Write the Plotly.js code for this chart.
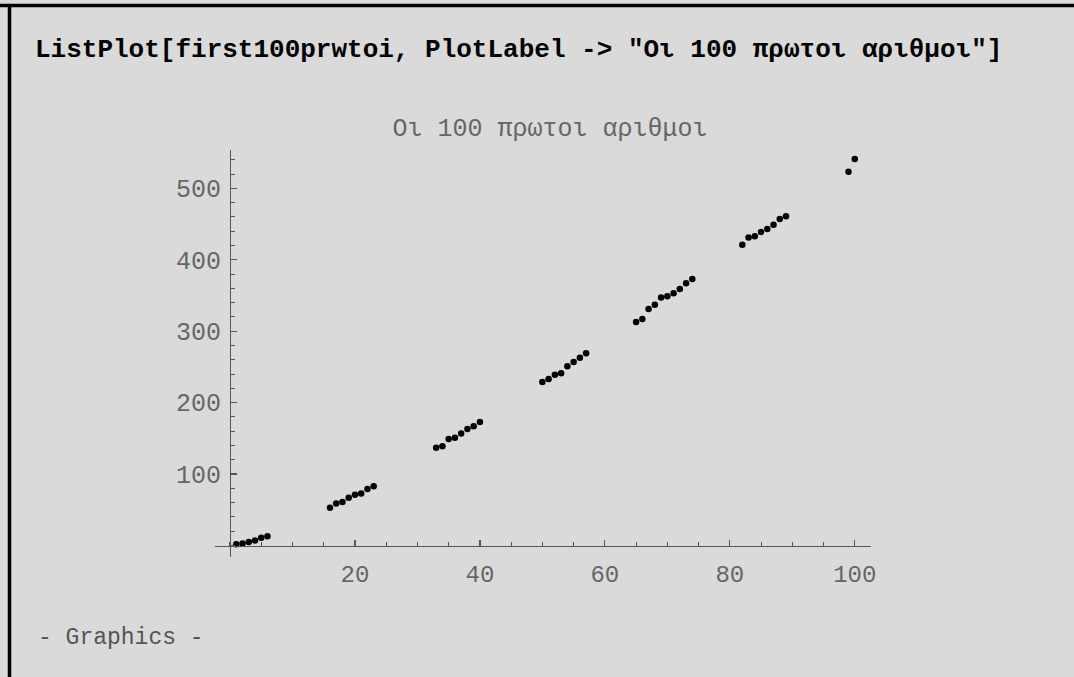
<!DOCTYPE html>
<html>
<head>
<meta charset="utf-8">
<script src="https://cdn.plot.ly/plotly-3.0.1.min.js"></script>
<style>html,body{margin:0;padding:0;background:#dadada;}#chart{width:1074px;height:677px;}</style>
</head>
<body>
<div id="chart"></div>
<script>
// Indices (n) of the primes shown and the n-th prime values
const indices = [1,2,3,4,5,6, 16,17,18,19,20,21,22,23, 33,34,35,36,37,38,39,40,
  50,51,52,53,54,55,56,57, 65,66,67,68,69,70,71,72,73,74, 82,83,84,85,86,87,88,89, 99,100];
const primes = [2,3,5,7,11,13, 53,59,61,67,71,73,79,83, 137,139,149,151,157,163,167,173,
  229,233,239,241,251,257,263,269, 313,317,331,337,347,349,353,359,367,373, 421,431,433,439,443,449,457,461, 523,541];
const xTicks = [20,40,60,80,100];
const yTicks = [100,200,300,400,500];
const commandText = 'ListPlot[first100prwtoi, PlotLabel -> "Οι 100 πρωτοι αριθμοι"]';
const plotLabel = 'Οι 100 πρωτοι αριθμοι';
const outputText = '- Graphics -';

const W = 1074, H = 677;
const L = 215, R = 871, T = 150, B = 557;
const xRange = [-2.4, 102.6], yRange = [-16, 553.6];
const pw = R - L, ph = B - T;
const px = v => (v - L) / pw;
const py = v => (B - v) / ph;

const axisColor = '#555555';
const font = 'Liberation Mono, Courier New, monospace';

const trace = {
  x: indices, y: primes, type: 'scatter', mode: 'markers',
  marker: {color: '#000000', size: 6.5}, hoverinfo: 'x+y', showlegend: false
};

const layout = {
  width: W, height: H,
  paper_bgcolor: '#dadada', plot_bgcolor: 'rgba(0,0,0,0)',
  margin: {l: L, r: W - R, t: T, b: H - B, pad: 0},
  showlegend: false,
  xaxis: {
    range: xRange, anchor: 'free', position: (0 - yRange[0]) / (yRange[1] - yRange[0]),
    showgrid: false, zeroline: false, showline: true, linecolor: axisColor, linewidth: 1.3,
    tickmode: 'array', tickvals: xTicks, ticktext: xTicks.map(String),
    ticks: 'inside', ticklen: 6, tickcolor: axisColor, tickwidth: 1.3,
    minor: {tickmode: 'linear', tick0: 0, dtick: 5, ticks: 'inside', ticklen: 4, tickcolor: axisColor, tickwidth: 1},
    tickfont: {family: font, size: 24, color: '#666666'}, ticklabelstandoff: 6
  },
  yaxis: {
    range: yRange, anchor: 'free', position: (0 - xRange[0]) / (xRange[1] - xRange[0]),
    showgrid: false, zeroline: false, showline: true, linecolor: axisColor, linewidth: 1.3,
    tickmode: 'array', tickvals: yTicks, ticktext: yTicks.map(String),
    ticks: 'inside', ticklen: 6, tickcolor: axisColor, tickwidth: 1.3,
    minor: {tickmode: 'linear', tick0: 0, dtick: 20, ticks: 'inside', ticklen: 4, tickcolor: axisColor, tickwidth: 1},
    tickfont: {family: font, size: 25, color: '#666666'}, ticklabelstandoff: 4
  },
  title: {
    text: plotLabel, font: {family: font, size: 25, color: '#666666'},
    xref: 'paper', x: px(550), xanchor: 'center', yref: 'container', y: 1 - 127 / H, yanchor: 'middle'
  },
  annotations: [
    {text: '<b>' + commandText + '</b>', xref: 'paper', yref: 'paper', x: px(33), y: py(50),
     xanchor: 'left', yanchor: 'middle', showarrow: false,
     font: {family: font, size: 26, color: '#000000'}},
    {text: outputText, xref: 'paper', yref: 'paper', x: px(36), y: py(638),
     xanchor: 'left', yanchor: 'middle', showarrow: false,
     font: {family: font, size: 23, color: '#555555'}}
  ],
  shapes: [
    {type: 'line', xref: 'paper', yref: 'paper', x0: px(0), x1: px(W), y0: py(5.5), y1: py(5.5),
     line: {color: '#000000', width: 3.5}},
    {type: 'line', xref: 'paper', yref: 'paper', x0: px(9.5), x1: px(9.5), y0: py(4), y1: py(H),
     line: {color: '#000000', width: 3.5}}
  ]
};

Plotly.newPlot('chart', [trace], layout, {displayModeBar: false, staticPlot: true});
</script>
</body>
</html>
